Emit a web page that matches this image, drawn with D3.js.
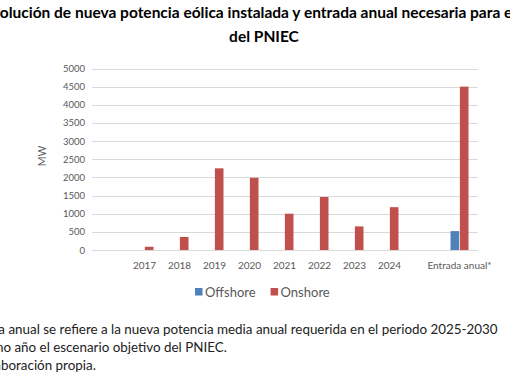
<!DOCTYPE html>
<html lang="es">
	<head>
		<meta charset="UTF-8">
		<title>Potencia eólica</title>
		<script src="https://d3js.org/d3.v7.min.js"></script>
		<style>
			body {
				margin: 0;
				background: white;
				overflow: hidden;
			}

			svg text {
				font-family: Lato, "Open Sans", sans-serif;
			}

			.tick text {
				fill: #595959;
				font-size: 9.5px;
			}

			.xaxis .tick text {
				font-size: 10px;
			}

			.grid line {
				stroke: #d9d9d9;
				stroke-width: 1;
			}
		</style>
	</head>
	<body>
		<svg id="chart" width="510" height="382"></svg>
		<script>
			const categories = ["", "2017", "2018", "2019", "2020", "2021", "2022", "2023", "2024", "", "Entrada anual*"]
			const offshore = [null, 0, 0, 0, 0, 0, 0, 0, 0, null, 520]
			const onshore = [null, 90, 360, 2250, 1990, 1000, 1460, 650, 1180, null, 4500]
			const yTicks = [0, 500, 1000, 1500, 2000, 2500, 3000, 3500, 4000, 4500, 5000]
			const seriesNames = ["Offshore", "Onshore"]
			const colors = { Offshore: "#4f81bd", Onshore: "#c0504d" }

			const svg = d3.select("#chart")

			const x = d3.scaleBand()
				.domain(d3.range(categories.length))
				.range([92, 477])
			const xs = d3.scaleBand()
				.domain(seriesNames)
				.range([x.bandwidth() / 2 - 9, x.bandwidth() / 2 + 9])
				.paddingInner(0.08)
			const y = d3.scaleLinear()
				.domain([0, 5000])
				.range([250, 68.5])

			// place a text so that the part after prefix starts at startX
			function placeFrom(sel, prefix, startX) {
				const tmp = svg.append("text")
					.attr("font-size", sel.attr("font-size"))
					.attr("font-weight", sel.attr("font-weight"))
					.style("font-family", sel.style("font-family"))
					.text(prefix)
				const w = tmp.node().getComputedTextLength()
				tmp.remove()
				sel.attr("x", startX - w)
			}

			// title, first line is wider than the picture and gets clipped
			const title1 = svg.append("text")
				.attr("y", 18)
				.attr("font-size", 15.5)
				.attr("font-weight", "bold")
				.attr("fill", "#000")
				.text("Evolución de nueva potencia eólica instalada y entrada anual necesaria para el cumplimiento")
			placeFrom(title1, "Ev", 0)
			svg.append("text")
				.attr("x", 264)
				.attr("y", 41.5)
				.attr("text-anchor", "middle")
				.attr("font-size", 15.5)
				.attr("font-weight", "bold")
				.attr("fill", "#000")
				.text("del PNIEC")

			// gridlines
			svg.append("g")
				.attr("class", "grid")
				.selectAll("line")
				.data(yTicks)
				.join("line")
				.attr("x1", 92)
				.attr("x2", 478)
				.attr("y1", d => Math.round(y(d)) + 0.5)
				.attr("y2", d => Math.round(y(d)) + 0.5)

			const yAxis = svg.append("g")
				.attr("transform", "translate(85,0)")
				.call(d3.axisLeft(y).tickValues(yTicks).tickFormat(d3.format("d")).tickSize(0).tickPadding(0))
			yAxis.select(".domain").remove()

			const xAxis = svg.append("g")
				.attr("class", "xaxis")
				.attr("transform", "translate(0,258)")
				.call(d3.axisBottom(x).tickFormat(i => categories[i]).tickSize(0).tickPadding(4))
			xAxis.select(".domain").remove()

			svg.append("text")
				.attr("transform", "translate(45.5,156) rotate(-90)")
				.attr("text-anchor", "middle")
				.attr("font-size", 10.5)
				.attr("fill", "#595959")
				.text("MW")

			// bars
			const rows = categories.map((c, i) => ({ i, Offshore: offshore[i], Onshore: onshore[i] }))
			svg.append("g")
				.selectAll("g")
				.data(rows)
				.join("g")
				.attr("transform", d => `translate(${x(d.i)},0)`)
				.selectAll("rect")
				.data(d => seriesNames.map(s => ({ s, v: d[s] })).filter(e => e.v))
				.join("rect")
				.attr("x", d => xs(d.s))
				.attr("width", xs.bandwidth())
				.attr("y", d => y(d.v))
				.attr("height", d => y(0) - y(d.v))
				.attr("fill", d => colors[d.s])

			// legend
			const legend = svg.append("g")
				.attr("transform", "translate(195,292)")
			let lx = 0
			seriesNames.forEach(s => {
				legend.append("rect")
					.attr("x", lx)
					.attr("y", -4)
					.attr("width", 7.5)
					.attr("height", 7.5)
					.attr("fill", colors[s])
				const t = legend.append("text")
					.attr("x", lx + 10)
					.attr("y", 4.5)
					.attr("font-size", 13)
					.attr("fill", "#595959")
					.text(s)
				lx += 10 + t.node().getComputedTextLength() + 15
			})

			// footnotes, clipped on the left as in the source
			const notes = [
				{ text: "*Entrada anual se refiere a la nueva potencia media anual requerida en el periodo 2025-2030", prefix: "*Entrada ", at: 5, y: 334 },
				{ text: "tomando como año el escenario objetivo del PNIEC.", prefix: "tomando como ", at: 11, y: 352 },
				{ text: "Fuente: Elaboración propia.", prefix: "Fuente: Ela", at: 1, y: 370 }
			]
			notes.forEach(n => {
				const t = svg.append("text")
					.attr("y", n.y)
					.attr("font-size", 13.4)
					.attr("fill", "#222")
					.text(n.text)
				placeFrom(t, n.prefix, n.at)
			})
		</script>
	</body>
</html>
